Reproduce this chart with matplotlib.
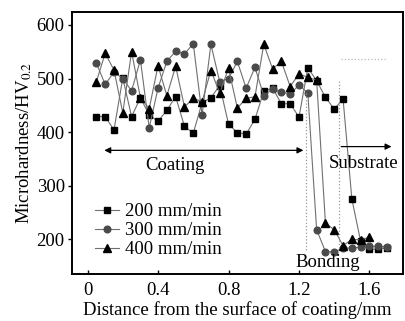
import matplotlib
matplotlib.use("Agg")
import matplotlib.pyplot as plt
import numpy as np

# distance from coating surface (mm), one point every 0.05 mm
dist = np.round(np.arange(1, 35) * 0.05, 2)

hv_200 = [429, 429, 404, 501, 429, 464, 432, 420, 441, 466, 411, 398, 455, 464,
          487, 415, 399, 396, 424, 476, 482, 453, 453, 428, 520, 496, 465, 443,
          462, 275, 196, 181, 182, 184]
hv_300 = [529, 489, 512, 500, 477, 535, 408, 482, 532, 551, 546, 565, 432, 564,
          494, 500, 532, 482, 521, 468, 480, 475, 471, 488, 473, 218, 177, 177,
          183, 184, 185, 187, 187, 186]
hv_400 = [494, 547, 516, 436, 550, 464, 444, 524, 468, 523, 447, 463, 457, 515,
          473, 519, 445, 463, 466, 564, 518, 532, 485, 509, 502, 497, 230, 218,
          188, 200, 199, 204]

labels = ["200 mm/min", "300 mm/min", "400 mm/min"]
xticks = [0, 0.4, 0.8, 1.2, 1.6]
yticks = [200, 300, 400, 500, 600]

plt.rcParams['font.family'] = 'Liberation Serif'
plt.rcParams['mathtext.fontset'] = 'stix'
plt.rcParams['font.size'] = 13.5

fig = plt.figure(figsize=(4.05, 3.21), dpi=100)
ax = fig.add_axes([0.177, 0.146, 0.818, 0.818])

lc = '#707070'
ax.plot(dist, hv_200, color=lc, lw=0.8, marker='s', ms=4.4,
        mfc='black', mec='black', label=labels[0])
ax.plot(dist, hv_300, color=lc, lw=0.8, marker='o', ms=4.8,
        mfc='#4a4a4a', mec='#4a4a4a', label=labels[1])
ax.plot(dist[:len(hv_400)], hv_400, color=lc, lw=0.8, marker='^', ms=5.5,
        mfc='black', mec='black', label=labels[2])

# dotted guide lines
ax.plot([1.24, 1.24], [473, 180], ls=':', color='#999999', lw=0.9)
ax.plot([1.425, 1.425], [495, 180], ls=':', color='#999999', lw=0.9)
ax.plot([1.437, 1.696], [537, 537], ls=':', color='#bbbbbb', lw=0.9)

# region arrows and labels
ax.annotate('', xy=(0.095, 366), xytext=(1.225, 366),
            arrowprops=dict(arrowstyle='<|-|>', color='black', lw=0.9,
                            shrinkA=0, shrinkB=0, mutation_scale=9))
ax.annotate('', xy=(1.725, 373), xytext=(1.44, 373),
            arrowprops=dict(arrowstyle='-|>', color='black', lw=0.9,
                            shrinkA=0, shrinkB=0, mutation_scale=9))
ax.text(0.496, 338, 'Coating', ha='center', va='center')
ax.text(1.566, 342, 'Substrate', ha='center', va='center')
ax.text(1.363, 157, 'Bonding', ha='center', va='center')

ax.set_xlim(-0.09, 1.79)
ax.set_ylim(135, 625)
ax.set_xticks(xticks)
ax.set_xticklabels(['0', '0.4', '0.8', '1.2', '1.6'])
ax.set_yticks(yticks)
ax.tick_params(axis='x', direction='in', length=3, width=1, pad=6)
ax.tick_params(axis='y', direction='out', length=3, width=1, pad=2)
for s in ax.spines.values():
    s.set_linewidth(1.4)

ax.set_xlabel('Distance from the surface of coating/mm', labelpad=1)
ax.set_ylabel(r'Microhardness/HV$_{\mathrm{0.2}}$', labelpad=2)

ax.legend(loc='upper left', bbox_to_anchor=(0.065, 0.278), frameon=False,
          handlelength=1.3, handletextpad=0.3, labelspacing=0.1,
          borderpad=0.1, borderaxespad=0)

fig.savefig('out.png', dpi=100)
